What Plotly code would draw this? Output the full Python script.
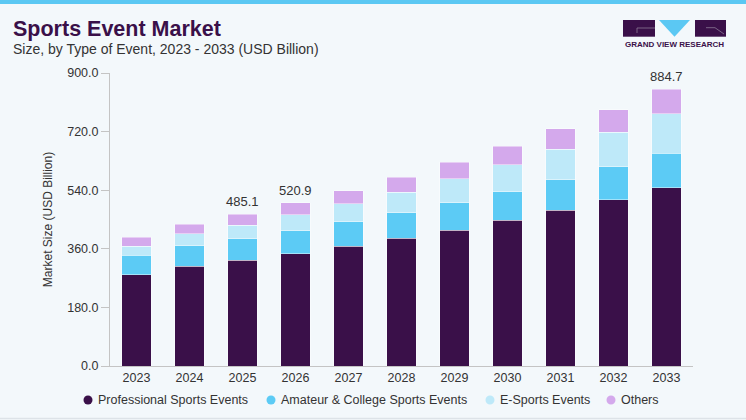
import plotly.graph_objects as go

# values (USD billion)
years = [2023, 2024, 2025, 2026, 2027, 2028, 2029, 2030, 2031, 2032, 2033]
professional = [280.1, 305.9, 324.3, 344.5, 367.2, 391.8, 417.2, 447.0, 477.7, 510.2, 547.0]
amateur = [59.5, 63.2, 66.3, 70.6, 75.5, 78.5, 83.8, 87.8, 93.9, 101.3, 106.5]
esports = [28.6, 36.8, 42.0, 49.1, 55.2, 63.5, 73.6, 82.8, 94.2, 106.4, 120.6]
others = [27.6, 29.8, 33.7, 36.8, 41.1, 46.1, 51.3, 57.4, 62.3, 69.6, 76.7]

series_names = ["Professional Sports Events", "Amateur & College Sports Events", "E-Sports Events", "Others"]
colors = ["#3a1049", "#5ccbf5", "#bee9f9", "#d4a9ec"]

label_years = [2025, 2026, 2033]
label_texts = ["485.1", "520.9", "884.7"]

tick_vals = [0, 180, 360, 540, 720, 900]
tick_text = ["0.0", "180.0", "360.0", "540.0", "720.0", "900.0"]

W, H = 746, 420
ML, MR, MT, MB = 110, 53, 73, 54
PW, PH = W - ML - MR, H - MT - MB


def px_x(x):
    return (x - ML) / PW


def px_y(y):
    return (H - MB - y) / PH


fig = go.Figure()

for name, vals, col in zip(series_names, [professional, amateur, esports, others], colors):
    fig.add_trace(go.Bar(x=years, y=vals, name=name, marker_color=col, width=0.55,
                         marker_line=dict(color="rgba(255,255,255,0.55)", width=0.8)))

totals = [a + b + c + d for a, b, c, d in zip(professional, amateur, esports, others)]
for yr, txt in zip(label_years, label_texts):
    i = years.index(yr)
    fig.add_annotation(x=yr, y=totals[i], text=txt, showarrow=False, yanchor="bottom", yshift=3,
                       font=dict(size=13, color="#333333"))

# legend drawn by hand so the round dots sit close to their labels
legend_dot_x = [88, 271, 490, 611]
for name, col, lx in zip(series_names, colors, legend_dot_x):
    fig.add_shape(type="circle", xref="paper", yref="paper",
                  x0=px_x(lx - 4.5), x1=px_x(lx + 4.5), y0=px_y(404.5), y1=px_y(395.5),
                  fillcolor=col, line_width=0)
    fig.add_annotation(xref="paper", yref="paper", x=px_x(lx + 8), y=px_y(400), xanchor="left",
                       yanchor="middle", text=name, showarrow=False,
                       font=dict(size=12.5, color="#333333"))

# header
fig.add_annotation(xref="paper", yref="paper", x=px_x(11), y=px_y(29), xanchor="left", yanchor="middle",
                   text="<b>Sports Event Market</b>", showarrow=False,
                   font=dict(size=21.5, color="#3a1049", family="Liberation Sans"))
fig.add_annotation(xref="paper", yref="paper", x=px_x(11), y=px_y(49), xanchor="left", yanchor="middle",
                   text="Size, by Type of Event, 2023 - 2033 (USD Billion)", showarrow=False,
                   font=dict(size=14, color="#333333"))

# top band and bottom edge of the card
fig.add_shape(type="rect", xref="paper", yref="paper", x0=px_x(0), x1=px_x(W), y0=px_y(4), y1=px_y(0),
              fillcolor="#5bc8f3", line_width=0, layer="below")
fig.add_shape(type="line", xref="paper", yref="paper", x0=px_x(0), x1=px_x(W), y0=px_y(418.5), y1=px_y(418.5),
              line=dict(color="#dde3e8", width=1.5))

# logo
fig.add_shape(type="rect", xref="paper", yref="paper", x0=px_x(623), x1=px_x(655), y0=px_y(36.7), y1=px_y(20),
              fillcolor="#3a1049", line_width=0)
fig.add_shape(type="path", xref="paper", yref="paper",
              path="M {},{} L {},{} L {},{} Z".format(px_x(659), px_y(20), px_x(690), px_y(20), px_x(674.5), px_y(36.7)),
              fillcolor="#5bc8f3", line_width=0)
fig.add_shape(type="rect", xref="paper", yref="paper", x0=px_x(695), x1=px_x(726), y0=px_y(36.7), y1=px_y(20),
              fillcolor="#3a1049", line_width=0)
fig.add_shape(type="path", xref="paper", yref="paper",
              path="M {},{} L {},{} L {},{}".format(px_x(637), px_y(33), px_x(637), px_y(28), px_x(655), px_y(28)),
              line=dict(color="#8a7a95", width=0.8))
fig.add_shape(type="path", xref="paper", yref="paper",
              path="M {},{} L {},{} L {},{}".format(px_x(706), px_y(27.7), px_x(715), px_y(27.7), px_x(724), px_y(34)),
              line=dict(color="#8a7a95", width=0.8))
fig.add_annotation(xref="paper", yref="paper", x=px_x(674.5), y=px_y(45), xanchor="center", yanchor="middle",
                   text="<b>GRAND VIEW RESEARCH</b>", showarrow=False,
                   font=dict(size=8, color="#3a1049"))

fig.update_layout(
    width=W, height=H,
    margin=dict(l=ML, r=MR, t=MT, b=MB),
    barmode="stack", showlegend=False,
    paper_bgcolor="#f3f8fb", plot_bgcolor="#f3f8fb",
    font=dict(family="Liberation Sans", size=12, color="#333333"),
    xaxis=dict(range=[years[0] - 0.5, years[-1] + 0.5], tickvals=years, showline=True,
               linecolor="#c4c4c4", linewidth=1, ticks="", showgrid=False, zeroline=False,
               tickfont=dict(size=12.5, color="#333333")),
    yaxis=dict(range=[0, 900], tickvals=tick_vals, ticktext=tick_text, showgrid=False, zeroline=False,
               showline=True, linecolor="#c4c4c4", linewidth=1, ticks="outside", ticklen=8,
               tickcolor="#c4c4c4", tickfont=dict(size=12.5, color="#333333"),
               title=dict(text="Market Size (USD Billion)", standoff=12, font=dict(size=12, color="#333333"))),
)

fig.write_html("out.html", config={"displayModeBar": False},
               post_script="document.body.style.margin='0';")
